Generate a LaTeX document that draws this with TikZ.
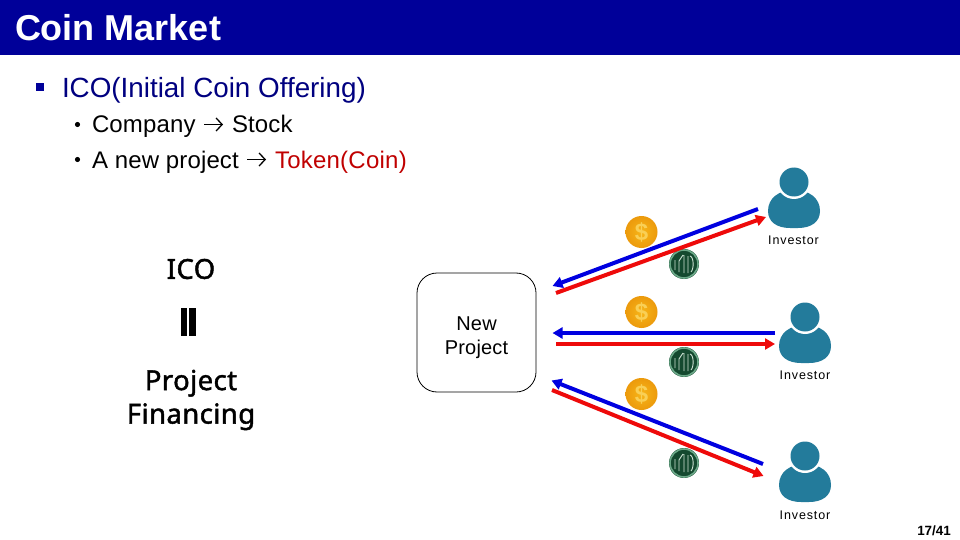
\documentclass[tikz,border=0pt]{standalone}
\usepackage{fontspec}
\setmainfont{Liberation Sans}
\newfontfamily\kfont[FakeBold=1.6]{Noto Sans}
\usetikzlibrary{arrows.meta}
\definecolor{banner}{HTML}{000099}
\definecolor{navytext}{HTML}{000080}
\definecolor{tokred}{HTML}{C00000}
\definecolor{person}{HTML}{237B9B}
\definecolor{arrblue}{HTML}{0000E0}
\definecolor{arrred}{HTML}{EE0A0A}
\definecolor{coinin}{HTML}{F7B518}
\definecolor{coinout}{HTML}{EC9A0C}
\definecolor{coinmark}{HTML}{F9CF55}
\definecolor{tokfill}{HTML}{14492F}
\definecolor{tokrim}{HTML}{6BA888}
\definecolor{tokline}{HTML}{CFE4D6}
\newcommand{\tsz}[1]{\fontsize{#1}{#1}\selectfont}
\tikzset{
  txt/.style={inner sep=0pt,outer sep=0pt,anchor=base west,text depth=0pt},
  ctr/.style={inner sep=0pt,outer sep=0pt,align=center,anchor=center},
  bluearrow/.style={draw=arrblue,line width=4pt,-{Triangle[length=10pt,width=11pt]}},
  redarrow/.style={draw=arrred,line width=4pt,-{Triangle[length=10pt,width=11pt]}},
  textarrow/.style={draw=black,line width=1.3pt,-{Straight Barb[length=6pt,width=13pt,line width=1.3pt]}},
  subline/.style={txt,font=\tsz{24}\addfontfeature{LetterSpace=0.6}},
  inv/.style={ctr,font=\tsz{12.5}\addfontfeature{LetterSpace=7}},
  lefttext/.style={ctr,font=\kfont\tsz{27.5}\addfontfeature{LetterSpace=1.5}},
  pics/investor/.style={code={
    \fill[person] (0,8) .. controls (15,8) and (26,16) .. (26,29)
      .. controls (26,40) and (17,46) .. (4,46) -- (-4,46)
      .. controls (-17,46) and (-26,40) .. (-26,29)
      .. controls (-26,16) and (-15,8) .. (0,8) -- cycle;
    \fill[white] (0,0) circle (17pt);
    \fill[person] (0,0) circle (14.5pt);
  }},
  pics/dollarcoin/.style={code={
    \shade[inner color=coinin,outer color=coinout] (0,0) circle (16pt);
    \node[ctr,font=\tsz{24}\bfseries,text=coinmark] at (0,0.5) {\$};
  }},
  pics/tokencoin/.style={code={
    \fill[tokfill] (0,0) circle (15pt);
    \draw[tokrim,line width=1.6pt] (0,0) circle (14pt);
    \draw[tokline,line width=0.9pt]
      (-9,6) -- (-9,-4) (-5,8) -- (-5,-3) -- (-1,-9)
      (0,-9) -- (0,9) (4,9) -- (4,-8) (6,-8) .. controls (10,-7) and (10,5) .. (7,8);
  }}
}
\begin{document}
\begin{tikzpicture}[x=1pt,y=-1pt]
\useasboundingbox (0,0) rectangle (960,540);
\fill[white] (0,0) rectangle (960,540);
\fill[banner] (0,0) rectangle (960,55);
\node[txt,text=white,font=\tsz{36}\bfseries] (title) at (15,41) {Coin Market};
\fill[banner] (36,83) rectangle (44,91);
\node[txt,text=navytext,font=\tsz{27.8}] (ico) at (62,98) {ICO(Initial Coin Offering)};
\fill[black] (77.5,124.5) circle (2.6pt);
\fill[black] (77.5,159.5) circle (2.6pt);
\node[subline] (l1a) at (92,133) {Company};
\coordinate (l1s) at (204,124.5); \coordinate (l1e) at (223,124.5);
\draw[textarrow] (l1s) -- (l1e);
\node[subline] (l1b) at (232,133) {Stock};
\node[subline] (l2a) at (92,168) {A new project};
\coordinate (l2s) at (247,159.5); \coordinate (l2e) at (266,159.5);
\draw[textarrow] (l2s) -- (l2e);
\node[subline,text=tokred,font=\tsz{24}\addfontfeature{LetterSpace=1}] (l2b) at (275,168) {Token(Coin)};

\node[lefttext] (icol) at (191,269) {ICO};
\fill[black] (181,308) rectangle (187,336);
\fill[black] (189,308) rectangle (196,336);
\node[lefttext] (pf) at (191,400) {Project\\[6pt]Financing};

\node[draw=black,line width=0.8pt,rounded corners=20pt,minimum width=119pt,minimum height=119pt,inner sep=0pt] (proj) at (476.5,332.5) {};
\node[ctr,font=\tsz{20}\addfontfeature{LetterSpace=1}] (projtxt) at (476.5,338) {New\\[4pt]Project};

\pic at (641.5,232) {dollarcoin};
\pic at (684,264) {tokencoin};
\pic at (641.5,312) {dollarcoin};
\pic at (684,362) {tokencoin};
\pic at (641.5,394) {dollarcoin};
\pic at (684,463) {tokencoin};

\pic at (794,182) {investor};
\pic at (805,317) {investor};
\pic at (805,456) {investor};
\node[inv] (i1) at (793.5,240) {Investor};
\node[inv] (i2) at (805,375) {Investor};
\node[inv] (i3) at (805,515) {Investor};

\coordinate (a1) at (758,209); \coordinate (a2) at (552.5,286);
\coordinate (b1) at (556,293); \coordinate (b2) at (766,217);
\coordinate (c1) at (775,333); \coordinate (c2) at (552.5,333);
\coordinate (d1) at (556,344); \coordinate (d2) at (775,344);
\coordinate (e1) at (763,464); \coordinate (e2) at (551.5,380.5);
\coordinate (f1) at (552,390); \coordinate (f2) at (763.5,476);
\draw[bluearrow] (a1) -- (a2);
\draw[redarrow] (b1) -- (b2);
\draw[bluearrow] (c1) -- (c2);
\draw[redarrow] (d1) -- (d2);
\draw[bluearrow] (e1) -- (e2);
\draw[redarrow] (f1) -- (f2);

\node[anchor=base east,inner sep=0pt,font=\tsz{13.4}\bfseries] (pg) at (951,535) {17/41};
\end{tikzpicture}
\end{document}
